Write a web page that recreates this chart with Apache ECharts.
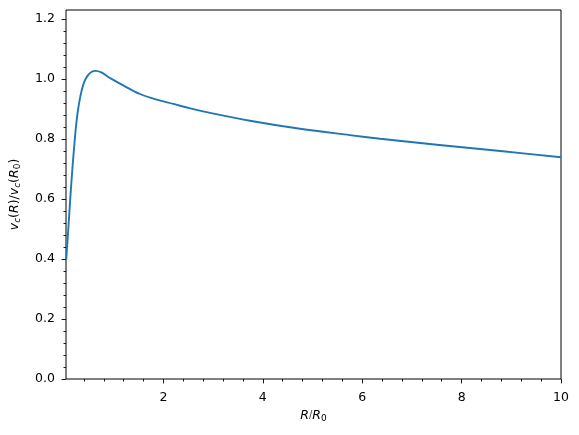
<!DOCTYPE html>
<html>
<head>
<meta charset="utf-8">
<script src="https://cdn.jsdelivr.net/npm/echarts@6/dist/echarts.min.js"></script>
<style>
  html, body { margin: 0; padding: 0; background: #fff; }
  #chart { width: 579px; height: 435px; }
</style>
</head>
<body>
<div id="chart"></div>
<script>
// rotation curve
var radius = [0.044, 0.09, 0.13, 0.175, 0.21, 0.24, 0.28, 0.33, 0.40, 0.48, 0.56, 0.63,
              0.75, 0.93, 1.2, 1.53, 1.87, 2.2, 2.54, 2.94, 3.74, 4.75, 5.75, 6.36, 7.5, 8.83, 10];
var vcirc = [0.398, 0.509, 0.612, 0.715, 0.785, 0.84, 0.895, 0.943, 0.987, 1.012, 1.024, 1.027,
             1.022, 1.003, 0.978, 0.95, 0.931, 0.917, 0.902, 0.887, 0.861, 0.834, 0.813, 0.801, 0.781, 0.759, 0.739];
var xTicks = [2, 4, 6, 8, 10];
var yTicks = [0, 0.2, 0.4, 0.6, 0.8, 1.0, 1.2];
var xMinor = [0.4, 0.8, 1.2, 1.6, 2.4, 2.8, 3.2, 3.6, 4.4, 4.8, 5.2, 5.6, 6.4, 6.8, 7.2, 7.6, 8.4, 8.8, 9.2, 9.6];
var yMinor = [0.04, 0.08, 0.12, 0.16, 0.24, 0.28, 0.32, 0.36, 0.44, 0.48, 0.52, 0.56,
              0.64, 0.68, 0.72, 0.76, 0.84, 0.88, 0.92, 0.96, 1.04, 1.08, 1.12, 1.16];

var font = 'DejaVu Sans';
var chart = echarts.init(document.getElementById('chart'));

var pts = radius.map(function (r, i) { return [r, vcirc[i]]; });

var subStyle = { fontFamily: font, fontSize: 9, fontStyle: 'italic', color: '#000', verticalAlign: 'bottom', padding: [6, 0, 0, 0] };
var sub0Style = { fontFamily: font, fontSize: 9, color: '#000', verticalAlign: 'bottom', padding: [6, 0, 0, 0] };
var itStyle = { fontFamily: font, fontSize: 12.5, fontStyle: 'italic', color: '#000' };
var nStyle = { fontFamily: font, fontSize: 12.5, color: '#000' };

function tickAxis(major) {
  return {
    show: true,
    length: major ? 4.4 : 2.5,
    lineStyle: { color: '#000', width: 0.9 }
  };
}

var option = {
  animation: false,
  backgroundColor: '#fff',
  grid: {
    left: 65.5, right: 18, top: 10, bottom: 56,
    containLabel: false,
    show: true, borderColor: '#000', borderWidth: 1, backgroundColor: 'transparent'
  },
  xAxis: [{
    type: 'value', min: 0.04, max: 10, position: 'bottom',
    axisLine: { show: false },
    axisTick: Object.assign(tickAxis(true), { customValues: xTicks }),
    axisLabel: {
      customValues: xTicks, margin: 12, color: '#000',
      fontFamily: font, fontSize: 12.5,
      formatter: function (v) { return String(v); }
    },
    splitLine: { show: false },
    name: '{it|R}/{it|R}{s0|0}',
    nameLocation: 'middle', nameGap: 29,
    nameTextStyle: { rich: { it: itStyle, n: nStyle, s0: sub0Style } }
  }, {
    type: 'value', min: 0.04, max: 10, position: 'bottom',
    axisLine: { show: false },
    axisTick: Object.assign(tickAxis(false), { customValues: xMinor }),
    axisLabel: { show: false },
    splitLine: { show: false }
  }],
  yAxis: [{
    type: 'value', min: 0, max: 1.23, position: 'left',
    axisLine: { show: false },
    axisTick: Object.assign(tickAxis(true), { customValues: yTicks }),
    axisLabel: {
      customValues: yTicks, margin: 11, color: '#000',
      fontFamily: font, fontSize: 12.5,
      formatter: function (v) { return v.toFixed(1); }
    },
    splitLine: { show: false },
    name: '{it|v}{s|c}{n|(}{it|R}{n|)/}{it|v}{s|c}{n|(}{it|R}{s0|0}{n|)}',
    nameLocation: 'middle', nameGap: 44, nameRotate: 90,
    nameTextStyle: { rich: { it: itStyle, n: nStyle, s: subStyle, s0: sub0Style } }
  }, {
    type: 'value', min: 0, max: 1.23, position: 'left',
    axisLine: { show: false },
    axisTick: Object.assign(tickAxis(false), { customValues: yMinor }),
    axisLabel: { show: false },
    splitLine: { show: false }
  }],
  series: [{
    type: 'line',
    xAxisIndex: 0, yAxisIndex: 0,
    data: pts,
    smooth: 0.35,
    showSymbol: false,
    lineStyle: { color: '#1f77b4', width: 1.9 },
    clip: true
  }]
};

chart.setOption(option);
</script>
</body>
</html>
